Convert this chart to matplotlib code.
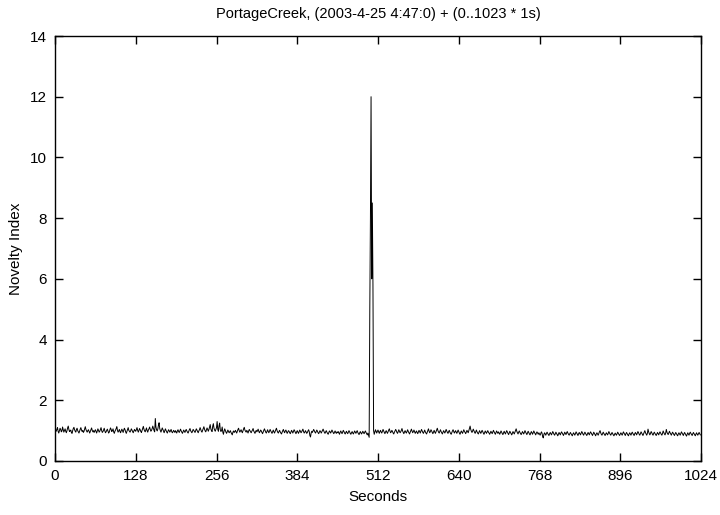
import numpy as np
import matplotlib
matplotlib.use("Agg")
import matplotlib.pyplot as plt

title = "PortageCreek, (2003-4-25 4:47:0) + (0..1023 * 1s)"
xlabel = "Seconds"
ylabel = "Novelty Index"
xticks = [0, 128, 256, 384, 512, 640, 768, 896, 1024]
yticks = [0, 2, 4, 6, 8, 10, 12, 14]

# Novelty index values (hundredths), one per second
seg00 = "95 102 98 105 110 97 92 100 108 104 96 99 112 103 95 101 106 98 93 100 109 115 104 97 99 102 94 91 100 107 111 103 98 95 104 108 100 96 92 99 105 110 102 97 101 94 98 106 113 104 99 95 100 103 97 92 98 105 109 101 96 100 94 99"
seg01 = "103 97 92 99 106 101 95 98 104 110 100 94 97 102 108 99 93 96 101 105 98 92 95 103 109 104 97 100 106 96 91 98 102 107 113 101 95 99 104 97 93 100 105 99 94 102 108 103 96 91 97 104 110 101 98 95 100 106 102 97 93 99 104 100"
seg02 = "98 104 110 101 95 100 107 103 97 94 101 108 114 105 99 96 103 109 100 95 102 106 112 104 98 101 107 115 108 100 96 140 112 103 99 105 118 126 107 100 95 102 109 104 98 93 99 106 101 96 92 98 103 100 95 99 104 97 93 96 101 98 94 100"
seg03 = "96 92 99 103 97 94 100 105 99 95 91 97 102 98 94 100 104 99 95 92 98 103 107 100 96 93 99 104 101 97 94 100 106 102 97 93 99 103 110 104 98 95 101 108 113 105 99 96 102 109 104 98 104 112 120 106 100 97 115 123 108 102 98 104"
seg04 = "110 130 104 98 116 125 103 97 100 112 95 88 99 106 100 95 91 97 102 98 93 96 100 94 90 86 95 99 94 97 101 96 92 98 104 108 100 95 99 103 97 93 100 106 111 102 98 95 101 97 92 99 104 100 96 93 98 102 107 99 95 91 97 101"
seg05 = "96 100 105 98 93 97 102 99 94 90 96 101 106 100 95 92 98 103 97 93 99 104 99 95 91 97 102 96 92 98 103 108 100 95 92 97 101 96 92 89 95 100 104 97 93 99 102 96 91 95 100 98 93 90 96 101 97 92 98 103 99 94 90 96"
seg06 = "100 95 91 97 102 98 93 96 101 105 97 92 95 100 96 91 94 99 103 97 84 79 92 98 94 99 104 100 95 92 97 102 98 93 90 95 100 97 92 96 101 105 99 94 91 96 100 95 91 88 94 99 96 92 97 102 98 93 90 95 99 94 91 96"
seg07 = "93 97 92 88 95 99 94 90 96 101 97 92 89 94 98 93 90 95 100 96 91 88 93 97 92 89 94 99 95 91 96 100 94 90 87 93 97 92 89 94 98 93 90 95 99 94 90 86 92 85 78 500 800 1200 600 850 580 100 88 95 103 97 92 98"
seg08 = "102 96 91 97 101 95 92 98 104 99 94 90 96 100 95 91 97 102 106 98 93 96 101 97 92 89 95 99 104 100 94 91 97 103 98 93 96 101 107 99 94 90 96 100 95 92 98 103 97 93 89 95 100 105 98 93 97 102 96 91 95 99 94 90"
seg09 = "96 101 97 92 98 104 99 94 91 97 102 96 92 89 95 100 106 98 93 97 103 99 94 90 96 101 95 91 97 102 108 100 95 92 98 103 97 93 89 95 100 96 92 98 104 99 94 91 97 101 95 91 88 94 99 103 97 92 96 100 95 91 97 102"
seg10 = "97 92 88 94 99 95 91 97 103 98 94 90 96 101 97 93 100 108 115 104 98 94 99 105 100 95 91 97 102 96 92 89 95 100 95 91 96 101 97 92 88 94 99 95 91 96 100 95 92 88 93 98 94 90 96 101 96 92 88 94 99 95 91 96"
seg11 = "92 88 94 99 95 90 87 93 98 93 89 95 100 96 91 87 93 98 94 90 86 92 97 93 89 95 100 106 98 93 89 95 99 94 90 87 92 97 93 89 95 100 95 91 87 93 98 94 89 86 92 97 93 88 94 99 94 90 86 92 96 92 88 93"
seg12 = "89 85 91 96 92 80 76 88 93 89 85 91 95 91 87 84 90 94 90 86 92 97 93 88 85 90 95 91 87 83 89 94 90 86 92 96 92 88 84 90 95 91 87 93 97 92 88 85 90 94 90 86 83 89 93 89 85 91 96 92 88 84 90 94"
seg13 = "90 86 92 97 93 88 85 91 95 91 87 84 89 94 90 86 92 96 92 88 84 90 95 91 87 83 89 93 89 85 91 96 100 93 88 85 90 95 91 87 84 89 93 89 86 92 97 92 88 85 90 94 90 86 83 88 92 88 85 90 95 91 87 84"
seg14 = "89 93 89 85 91 96 92 88 84 90 94 90 86 83 89 93 89 85 91 95 91 87 84 90 94 90 86 92 97 93 88 85 91 96 92 88 84 90 95 100 93 89 85 91 105 96 90 86 92 97 93 88 85 91 95 91 87 84 89 94 90 86 92 96"
seg15 = "92 88 85 91 99 94 89 86 92 104 95 90 87 93 98 93 89 85 91 95 91 87 84 90 94 90 86 83 89 93 89 85 91 96 92 88 84 90 94 90 86 82 88 93 89 85 91 95 91 87 84 90 94 90 86 83 89 93 88 85 90 94 90 86"

segments = [seg00, seg01, seg02, seg03, seg04, seg05, seg06, seg07,
            seg08, seg09, seg10, seg11, seg12, seg13, seg14, seg15]
values = np.array([int(v) for s in segments for v in s.split()], dtype=float) / 100.0
seconds = np.arange(len(values))

plt.rcParams['font.family'] = ['Liberation Sans', 'DejaVu Sans']

fig = plt.figure(figsize=(7.2, 5.15), dpi=100)
ax = fig.add_axes([55/720, 54/515, 646/720, 425/515])
ax.plot(seconds, values, color='black', linewidth=0.7)

ax.set_xlim(0, 1024)
ax.set_ylim(0, 14)
ax.set_xticks(xticks)
ax.set_yticks(yticks)
ax.tick_params(direction='in', length=6, width=1, top=True, right=True,
               labelsize=11, pad=6, colors='black')
for sp in ax.spines.values():
    sp.set_linewidth(1.0)
ax.set_title(title, fontsize=10.5, pad=13)
ax.set_xlabel(xlabel, fontsize=11, labelpad=5)
ax.set_ylabel(ylabel, fontsize=11, labelpad=5)

fig.savefig("out.png", dpi=100)
